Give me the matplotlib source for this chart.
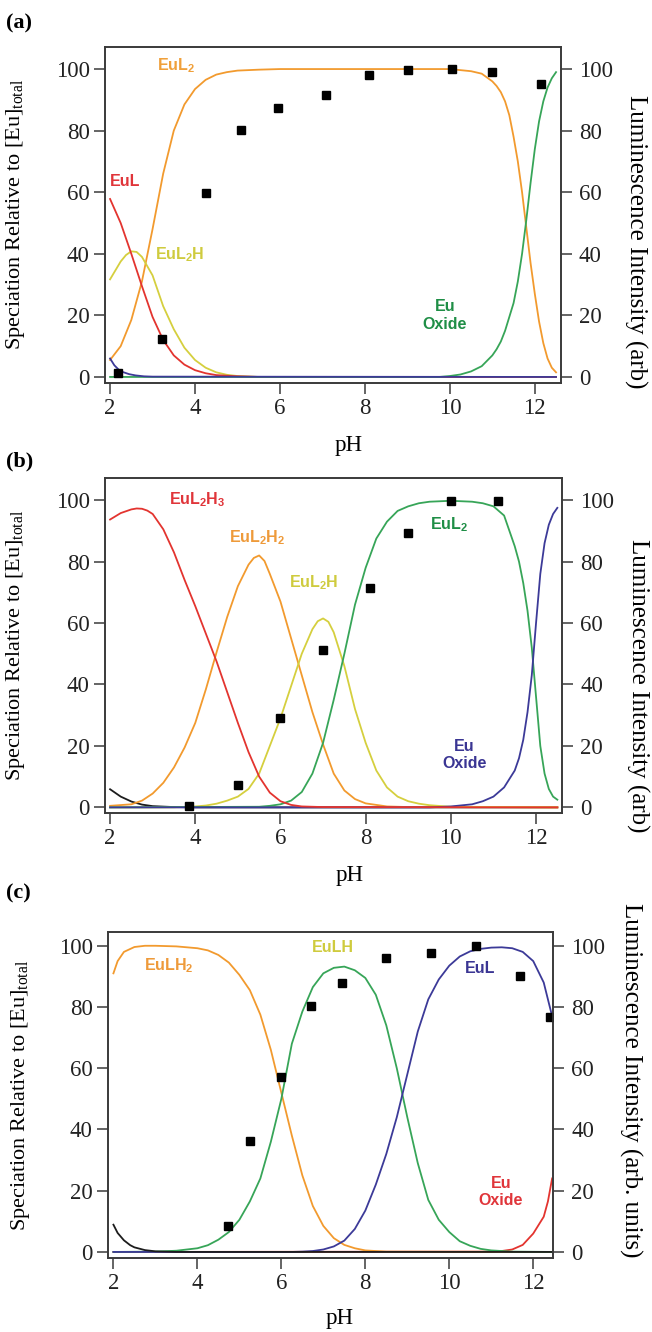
import matplotlib
matplotlib.use("Agg")
import matplotlib.pyplot as plt

plt.rcParams["font.family"] = ["Liberation Serif", "DejaVu Serif"]
plt.rcParams["mathtext.fontset"] = "custom"
plt.rcParams["mathtext.rm"] = "Liberation Serif"
plt.rcParams["mathtext.it"] = "Liberation Serif:italic"
plt.rcParams["mathtext.sf"] = "Liberation Sans:bold"

# ---- panel (a) ----
a_eul_ph = [2.0, 2.25, 2.5, 2.75, 3.0, 3.25, 3.5, 3.75, 4.0, 4.25, 4.5, 5.0, 5.5, 12.5]
a_eul = [57.8, 50, 40, 29.5, 19.5, 12, 7, 4, 2.2, 1.2, 0.6, 0.2, 0, 0]
a_eul2h_ph = [2.0, 2.25, 2.375, 2.5, 2.625, 2.75, 3.0, 3.25, 3.5, 3.75, 4.0, 4.25, 4.5, 4.75,
              5.0, 5.5, 12.5]
a_eul2h = [31.7, 37.5, 39.6, 40.8, 40.6, 39, 33, 23, 15.5, 9.5, 5.5, 3, 1.5, 0.7,
           0.3, 0, 0]
a_eul2_ph = [2.0, 2.25, 2.5, 2.75, 3.0, 3.25, 3.5, 3.75, 4.0, 4.25, 4.5, 4.75, 5.0, 5.5, 6.0,
             10.0, 10.5, 10.75, 11.0, 11.1, 11.2, 11.3, 11.4, 11.5, 11.6, 11.7, 11.8, 11.9,
             12.0, 12.1, 12.2, 12.3, 12.4, 12.5]
a_eul2 = [5.5, 10, 18.5, 31, 48, 66, 80, 88.5, 93.5, 96.5, 98.2, 99, 99.5, 99.8, 100,
          100, 99.3, 98.5, 96, 94.5, 92.5, 89.5, 85, 78, 70, 60, 48.5, 37,
          27, 18, 11, 6, 3, 1.5]
a_oxide_ph = [2.0, 9.75, 10.0, 10.25, 10.5, 10.75, 11.0, 11.1, 11.2, 11.3, 11.4, 11.5, 11.6,
              11.7, 11.8, 11.9, 12.0, 12.1, 12.2, 12.3, 12.4, 12.5]
a_oxide = [0, 0, 0.3, 0.8, 1.8, 3.5, 7, 9, 11.5, 15, 19.5, 24, 31,
           40, 51, 63, 74, 83, 89.5, 94, 97, 99]
a_blue_ph = [2.0, 2.1, 2.2, 2.3, 2.45, 2.6, 2.8, 3.0, 12.5]
a_blue = [6, 3.8, 2.4, 1.6, 0.9, 0.5, 0.2, 0.1, 0]
a_lum_ph = [2.18, 3.23, 4.25, 5.09, 5.96, 7.08, 8.1, 9.02, 10.06, 11.0, 12.14]
a_lum = [1.4, 12.2, 59.7, 80.3, 87.5, 91.6, 98.1, 99.8, 100, 99, 95]

# ---- panel (b) ----
b_eul2h3_ph = [2.0, 2.25, 2.5, 2.625, 2.75, 2.875, 3.0, 3.25, 3.5, 3.75, 4.0, 4.25, 4.5,
               4.75, 5.0, 5.25, 5.5, 5.75, 6.0, 6.25, 6.5, 7.0, 12.5]
b_eul2h3 = [93.7, 95.8, 97, 97.3, 97.2, 96.6, 95.5, 90.5, 83, 74, 65.5, 56.5, 47.5,
            37.5, 27.5, 18, 10, 4.8, 2, 0.8, 0.3, 0.1, 0]
b_eul2h2_ph = [2.0, 2.5, 2.75, 3.0, 3.25, 3.5, 3.75, 4.0, 4.25, 4.5, 4.75, 5.0, 5.25, 5.375,
               5.5, 5.625, 5.75, 6.0, 6.25, 6.5, 6.75, 7.0, 7.25, 7.5, 7.75, 8.0, 8.5, 9.0,
               12.5]
b_eul2h2 = [0.5, 1, 2.2, 4.5, 8, 13, 19.5, 27.5, 38.5, 50.5, 62, 72, 79, 81.2,
            82, 80.2, 76, 67, 55, 43, 31, 20.5, 11, 5.5, 2.7, 1.3, 0.3, 0.1,
            0]
b_eul2h_ph = [2.0, 3.5, 4.0, 4.25, 4.5, 4.75, 5.0, 5.25, 5.5, 5.75, 6.0, 6.25, 6.5, 6.75,
              6.875, 7.0, 7.125, 7.25, 7.5, 7.75, 8.0, 8.25, 8.5, 8.75, 9.0, 9.25, 9.5, 10.0,
              12.5]
b_eul2h = [0, 0, 0.3, 0.6, 1.2, 2.2, 3.5, 6, 11, 20, 29, 39.5, 50, 58,
           60.6, 61.5, 60.4, 57, 46, 32, 21, 12, 6.5, 3.5, 2, 1.2, 0.7, 0.2,
           0]
b_eul2_ph = [2.0, 5.5, 5.75, 6.0, 6.25, 6.5, 6.75, 7.0, 7.25, 7.5, 7.75, 8.0, 8.25, 8.5, 8.75,
             9.0, 9.25, 9.5, 10.0, 10.5, 10.75, 11.0, 11.25, 11.5, 11.6, 11.7, 11.8, 11.9,
             12.0, 12.1, 12.2, 12.3, 12.4, 12.5]
b_eul2 = [0, 0.2, 0.5, 1, 2.2, 5, 11, 21, 35, 50, 66, 78, 87.5, 93, 96.5,
          98, 99, 99.5, 99.8, 99.5, 99, 98, 95, 85, 80, 73, 64, 52,
          36, 20, 11, 6, 3.5, 2.5]
b_oxide_ph = [2.0, 9.5, 10.0, 10.5, 10.75, 11.0, 11.25, 11.5, 11.6, 11.7, 11.8, 11.9,
              12.0, 12.1, 12.2, 12.3, 12.4, 12.5]
b_oxide = [0, 0, 0.3, 1, 2, 3.5, 6.5, 12, 16, 22, 31, 43, 60, 76, 86, 92, 95.5, 97.5]
b_black_ph = [2.0, 2.25, 2.5, 2.75, 3.0, 3.5, 4.0, 12.5]
b_black = [5.9, 3.5, 1.9, 0.9, 0.4, 0.1, 0, 0]
b_lum_ph = [3.86, 5.01, 5.98, 7.0, 8.1, 8.99, 10.0, 11.1]
b_lum = [0.4, 7.3, 29, 51.2, 71.3, 89.4, 99.8, 99.7]

# ---- panel (c) ----
c_eulh2_ph = [2.0, 2.1, 2.25, 2.5, 2.75, 3.0, 3.5, 4.0, 4.25, 4.5, 4.75, 5.0, 5.25, 5.5,
              5.75, 6.0, 6.25, 6.5, 6.75, 7.0, 7.25, 7.5, 7.75, 8.0, 8.5, 12.45]
c_eulh2 = [91, 95, 98, 99.6, 100, 100, 99.8, 99.2, 98.5, 97, 94.5, 90.5, 85.5, 77.5,
           66, 52, 38, 25, 15, 8.5, 4.5, 2.3, 1.2, 0.5, 0.1, 0]
c_eulh_ph = [2.0, 3.0, 3.5, 4.0, 4.25, 4.5, 4.75, 5.0, 5.25, 5.5, 5.75, 6.0, 6.25, 6.5, 6.75,
             7.0, 7.25, 7.5, 7.75, 8.0, 8.25, 8.5, 8.75, 9.0, 9.25, 9.5, 9.75, 10.0, 10.25,
             10.5, 10.75, 11.0, 11.5, 12.45]
c_eulh = [0, 0.1, 0.4, 1.2, 2.2, 4, 6.5, 10.5, 16.5, 24, 36, 50, 68, 78.5, 86.5,
          91, 92.8, 93.2, 92, 89.5, 84, 74, 60, 44, 29, 17, 10.5, 6.5, 3.5,
          2, 1, 0.5, 0.1, 0]
c_eul_ph = [2.0, 6.25, 6.5, 6.75, 7.0, 7.25, 7.5, 7.75, 8.0, 8.25, 8.5, 8.75, 9.0, 9.25, 9.5,
            9.75, 10.0, 10.25, 10.5, 10.75, 11.0, 11.25, 11.5, 11.75, 12.0, 12.25, 12.45]
c_eul = [0, 0, 0.1, 0.3, 0.8, 1.8, 3.7, 7.5, 13.5, 22, 32, 44, 58, 72, 82.5,
         89, 93.5, 96.5, 98.2, 99, 99.4, 99.5, 99.2, 98, 95, 88, 77]
c_oxide_ph = [2.0, 11.0, 11.25, 11.5, 11.75, 12.0, 12.25, 12.35, 12.45]
c_oxide = [0, 0.1, 0.3, 0.8, 2.3, 6, 11.5, 16.5, 24]
c_black_ph = [2.0, 2.1, 2.25, 2.4, 2.5, 2.75, 3.0, 3.5, 12.45]
c_black = [8.9, 6.2, 3.8, 2.2, 1.5, 0.6, 0.2, 0, 0]
c_lum_ph = [4.72, 5.25, 5.99, 6.71, 7.44, 8.49, 9.56, 10.64, 11.68, 12.4]
c_lum = [8.6, 36.3, 57, 80.4, 87.9, 95.9, 97.7, 99.9, 90.2, 76.7]

ph_ticks = [2, 4, 6, 8, 10, 12]
y_ticks = [0, 20, 40, 60, 80, 100]

ORANGE = "#F29A2E"
RED = "#E3342F"
YELLOW = "#D5CF3E"
GREEN = "#37A558"
BLUE = "#3C3A98"
BLACK = "#1c1c1c"
SPINE = "#3a3a3a"
FS = 16.5

fig = plt.figure(figsize=(6.52, 13.32), dpi=100)


def setup(rect, xlim, ylim, right_label, rlabel_x, rlabel_y, xlabel_x):
    ax = fig.add_axes(rect)
    ax.set_xlim(*xlim)
    ax.set_ylim(*ylim)
    ax.set_xticks(ph_ticks)
    ax.set_yticks(y_ticks)
    ax.tick_params(direction="out", length=8, width=1.1, colors=SPINE,
                   labelsize=FS, labelcolor="#222222", pad=3)
    for s in ax.spines.values():
        s.set_linewidth(1.2)
        s.set_color(SPINE)
    ax.set_xlabel("pH", fontsize=FS)
    ax.xaxis.set_label_coords(xlabel_x, -0.155)
    ax.set_ylabel(r"Speciation Relative to [Eu]$_{\mathrm{total}}$", fontsize=16)
    ax.yaxis.set_label_coords(-0.17, 0.5)
    ax2 = ax.twinx()
    ax2.set_ylim(*ylim)
    ax2.set_yticks(y_ticks)
    ax2.tick_params(direction="out", length=8, width=1.1, colors=SPINE,
                    labelsize=FS, labelcolor="#222222", pad=5)
    for s in ax2.spines.values():
        s.set_linewidth(1.2)
        s.set_color(SPINE)
    ax2.set_ylabel(right_label, fontsize=18, rotation=270, va="center")
    ax2.yaxis.set_label_coords(rlabel_x, rlabel_y)
    return ax


def label(ax, x, y, text, color, ha="center"):
    ax.text(x, y, text, color=color, fontsize=11.5, fontweight="bold",
            family=["Liberation Sans", "DejaVu Sans"], ha=ha, va="center",
            multialignment="center", zorder=6)


# (a)
ax = setup([0.161, 0.7125, 0.699, 0.2523], (1.88, 12.61), (-1.95, 107.2),
           "Luminescence Intensity (arb)", 1.165, 0.42, 0.535)
ax.plot(a_eul2_ph, a_eul2, color=ORANGE, lw=1.3)
ax.plot(a_eul2h_ph, a_eul2h, color=YELLOW, lw=1.3)
ax.plot(a_eul_ph, a_eul, color=RED, lw=1.3)
ax.plot(a_oxide_ph, a_oxide, color=GREEN, lw=1.3)
ax.plot(a_blue_ph, a_blue, color=BLUE, lw=1.3)
ax.plot(a_lum_ph, a_lum, "s", color="black", ms=6, zorder=5)
label(ax, 3.55, 101, r"EuL$_\mathsf{2}$", "#F0A03A")
label(ax, 2.0, 63.4, "EuL", "#E0353A", ha="left")
label(ax, 3.65, 39.6, r"EuL$_\mathsf{2}$H", "#CFCB3E")
label(ax, 9.88, 20, "Eu\nOxide", "#1F8E46")

# (b)
ax = setup([0.161, 0.3896, 0.701, 0.2515], (1.88, 12.61), (-1.85, 107.2),
           "Luminescence Intensity (arb)", 1.165, 0.38, 0.535)
ax.plot(b_black_ph, b_black, color=BLACK, lw=1.3)
ax.plot(b_eul2h2_ph, b_eul2h2, color=ORANGE, lw=1.3)
ax.plot(b_eul2h_ph, b_eul2h, color=YELLOW, lw=1.3)
ax.plot(b_eul2_ph, b_eul2, color=GREEN, lw=1.3)
ax.plot(b_oxide_ph, b_oxide, color=BLUE, lw=1.3)
ax.plot(b_eul2h3_ph, b_eul2h3, color=RED, lw=1.3)
ax.plot(b_lum_ph, b_lum, "s", color="black", ms=6, zorder=5)
label(ax, 4.05, 100, r"EuL$_\mathsf{2}$H$_\mathsf{3}$", "#E0353A")
label(ax, 5.45, 87.6, r"EuL$_\mathsf{2}$H$_\mathsf{2}$", "#EE9A3A")
label(ax, 6.79, 73, r"EuL$_\mathsf{2}$H", "#CFCB3E")
label(ax, 9.95, 91.9, r"EuL$_\mathsf{2}$", "#1F8E46")
label(ax, 10.32, 17, "Eu\nOxide", "#3A3593")

# (c)
ax = setup([0.1656, 0.0556, 0.6825, 0.2447], (1.87, 12.47), (-1.96, 104.5),
           "Luminescence Intensity (arb. units)", 1.175, 0.546, 0.52)
ax.plot(c_oxide_ph, c_oxide, color=RED, lw=1.3)
ax.plot(c_eulh2_ph, c_eulh2, color=ORANGE, lw=1.3)
ax.plot(c_eulh_ph, c_eulh, color=GREEN, lw=1.3)
ax.plot(c_eul_ph, c_eul, color=BLUE, lw=1.3)
ax.plot(c_black_ph, c_black, color=BLACK, lw=1.3)
ax.plot(c_lum_ph, c_lum, "s", color="black", ms=6, zorder=5)
label(ax, 3.31, 93.4, r"EuLH$_\mathsf{2}$", "#EE9A3A")
label(ax, 7.22, 99.3, "EuLH", "#CFCB3E")
label(ax, 10.73, 92.7, "EuL", "#3A3593")
label(ax, 11.23, 19.6, "Eu\nOxide", "#E0353A")

for txt, ypx in [("(a)", 23), ("(b)", 461), ("(c)", 893)]:
    fig.text(6 / 652, 1 - ypx / 1332, txt, fontsize=16, fontweight="bold",
             ha="left", va="center")

fig.savefig("out.png", dpi=100)
